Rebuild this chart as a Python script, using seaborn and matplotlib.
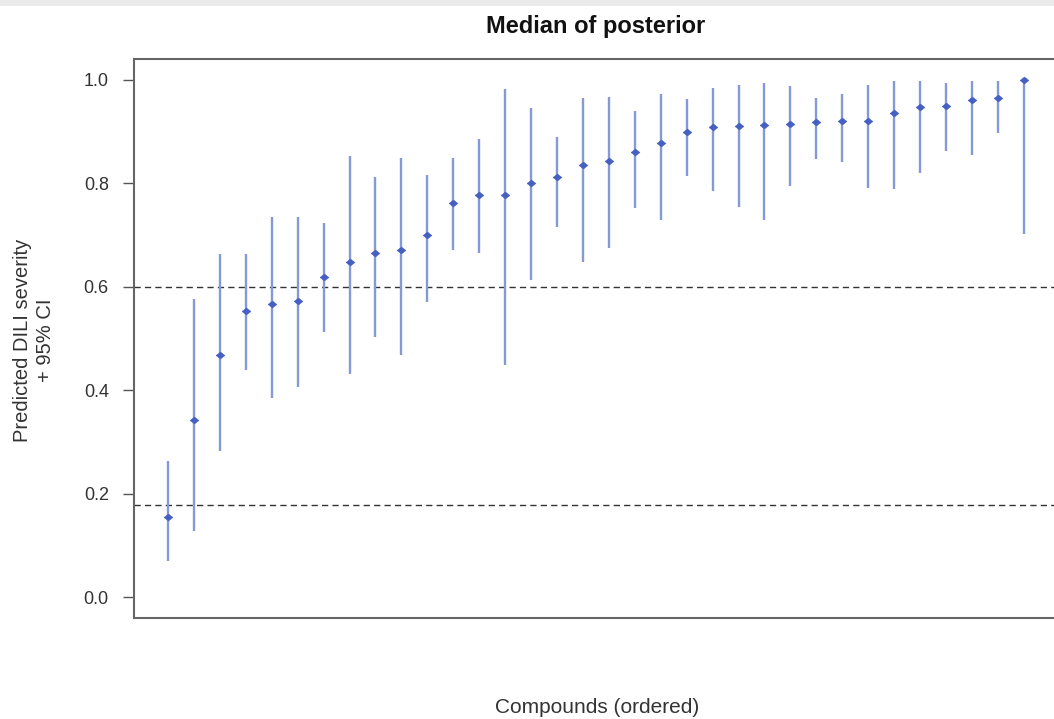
import numpy as np
import pandas as pd
import matplotlib
matplotlib.use("Agg")
import matplotlib.pyplot as plt
import seaborn as sns
from matplotlib.patches import Rectangle

# ---- data ----
compound = list(range(1, 35))
median = [0.156, 0.343, 0.468, 0.554, 0.567, 0.573, 0.619, 0.649, 0.666, 0.672,
          0.700, 0.762, 0.778, 0.778, 0.801, 0.812, 0.835, 0.844, 0.860, 0.879,
          0.900, 0.909, 0.911, 0.913, 0.915, 0.918, 0.920, 0.920, 0.936, 0.948,
          0.950, 0.961, 0.966, 1.000]
lower = [0.070, 0.129, 0.282, 0.439, 0.386, 0.407, 0.513, 0.431, 0.504, 0.468,
         0.571, 0.671, 0.665, 0.449, 0.614, 0.715, 0.649, 0.676, 0.753, 0.730,
         0.814, 0.785, 0.755, 0.730, 0.796, 0.847, 0.841, 0.792, 0.789, 0.821,
         0.862, 0.855, 0.897, 0.703]
upper = [0.264, 0.577, 0.663, 0.664, 0.735, 0.735, 0.724, 0.854, 0.812, 0.850,
         0.817, 0.850, 0.885, 0.982, 0.945, 0.889, 0.966, 0.968, 0.940, 0.973,
         0.963, 0.984, 0.991, 0.995, 0.988, 0.966, 0.973, 0.990, 0.999, 0.999,
         0.995, 0.999, 0.999, 1.000]
thresholds = [0.6, 0.178]
yticks = [0.0, 0.2, 0.4, 0.6, 0.8, 1.0]

df = pd.DataFrame({"compound": compound, "median": median,
                   "lower": lower, "upper": upper})

sns.set_theme(style="white")
plt.rcParams["font.family"] = ["Liberation Sans", "DejaVu Sans"]

W, H = 1054, 719
fig = plt.figure(figsize=(W / 100, H / 100), dpi=100)
fig.patch.set_facecolor("white")
# light grey strip at top
fig.patches.append(Rectangle((0, (H - 6) / H), 1, 6 / H, transform=fig.transFigure,
                             facecolor="#ebebeb", edgecolor="none", zorder=0))

left_px, right_px, top_px, bot_px = 133.8, 1058.0, 59.3, 618.0
ax = fig.add_axes([left_px / W, (H - bot_px) / H,
                   (right_px - left_px) / W, (bot_px - top_px) / H])
ax.set_facecolor("white")

n = len(compound)
pad = 0.04 * (n - 1)
ax.set_xlim(1 - pad, n + pad)
ax.set_ylim(-0.04, 1.04)

# CI lines
ax.vlines(df["compound"], df["lower"], df["upper"], color="#8399d8",
          linewidth=1.7, zorder=2)
# medians (diamond slightly wider than tall)
diamond = [(-1.0, 0.0), (0.0, 0.78), (1.0, 0.0), (0.0, -0.78), (-1.0, 0.0)]
sns.scatterplot(data=df, x="compound", y="median", ax=ax, marker=diamond,
                s=40, color="#4560c2", edgecolor="#4560c2", linewidth=0.4,
                zorder=3, legend=False)

for t in thresholds:
    ax.axhline(t, color="#333333", linewidth=1.0, linestyle=(0, (4.5, 3)), zorder=1)

ax.set_xticks([])
ax.set_yticks(yticks)
ax.set_yticklabels([f"{v:.1f}" for v in yticks])
ax.tick_params(axis="y", which="both", left=True, length=8, width=1.0,
               color="#555555", pad=10, labelsize=13, labelcolor="#333333")

for s in ax.spines.values():
    s.set_visible(True)
    s.set_color("#666666")
    s.set_linewidth(1.5)

ax.set_title("Median of posterior", fontsize=17, fontweight="bold",
             color="#111111", pad=19)
ax.set_xlabel("Compounds (ordered)", fontsize=15, color="#333333")
ax.xaxis.set_label_coords((597.5 - left_px) / (right_px - left_px),
                          (bot_px - 698) / (bot_px - top_px))
ax.set_ylabel("Predicted DILI severity\n+ 95% CI", fontsize=14.5, color="#333333",
              linespacing=1.25)
ax.yaxis.set_label_coords((55 - left_px) / (right_px - left_px),
                          (bot_px - 340) / (bot_px - top_px))
ax.grid(False)

fig.savefig("out.png", dpi=100, facecolor="white")
